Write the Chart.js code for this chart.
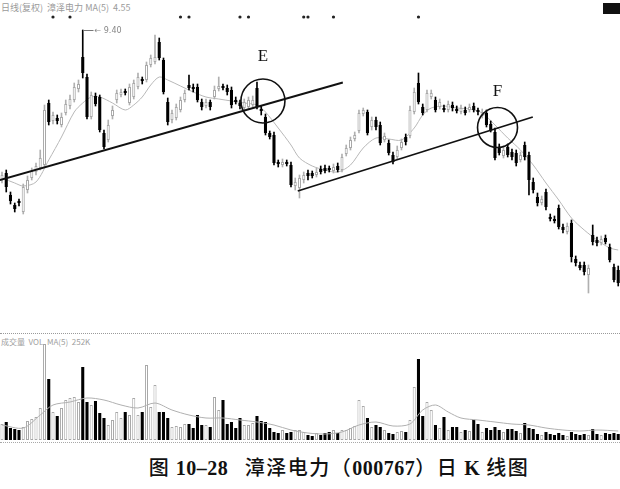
<!DOCTYPE html>
<html>
<head>
<meta charset="utf-8">
<script src="https://cdn.jsdelivr.net/npm/chart.js@4/dist/chart.umd.min.js"></script>
<style>
    body { margin: 0; background: #fff; }
    #wrap { position: relative; width: 620px; height: 489px; overflow: hidden; background: #fff; }
    canvas { position: absolute; left: 0; }
    #priceChart { top: 0; }
    #volChart { top: 330px; }
    #hdr { position: absolute; left: 1px; top: 1px; font: 9px "Noto Sans CJK SC", sans-serif; color: #9a9a9a; white-space: pre; }
    #box { position: absolute; left: 603px; top: 3px; width: 17px; height: 11px; background: #111; }
    #sep { position: absolute; left: 0; top: 333px; width: 620px; border-top: 1px dotted #9a9a9a; }
    #volHdr { position: absolute; left: 1px; top: 336px; font: 8px "Noto Sans CJK SC", sans-serif; color: #a0a0a0; white-space: pre; }
    #base { position: absolute; left: 0; top: 442px; width: 620px; border-top: 1px dotted #a8a8a8; }
    #caption { position: absolute; left: 0; top: 452px; width: 678px; text-align: center; font: bold 20px "Liberation Serif", "Noto Sans CJK SC", serif; color: #111; white-space: pre; letter-spacing: 0.5px; }
    #caption .cn { font-family: "Noto Sans CJK SC", sans-serif; font-weight: 500; letter-spacing: 1.5px; }
</style>
</head>
<body>
<div id="wrap">
    <div id="hdr">日线(复权)  漳泽电力 MA(5)  4.55</div>
    <div id="box"></div>
    <canvas id="priceChart" width="620" height="310"></canvas>
    <div id="sep"></div>
    <div id="volHdr">成交量  VOL  MA(5)  252K</div>
    <canvas id="volChart" width="620" height="110"></canvas>
    <div id="base"></div>
    <div id="caption"><span class="cn">图</span> 10–28   <span class="cn">漳泽电力（</span>000767<span class="cn">）日 </span>K<span class="cn"> 线图</span></div>
</div>

<script>
// ===========================
// DATA (daily K line, index = trading day)
// ===========================

const openP = [
    6.40, 6.54, 6.10, 5.90, 5.98, 5.76, 6.20, 6.44, 6.56, 6.64,
    6.70, 7.94, 7.58, 7.64, 7.50, 7.74, 7.88, 8.00, 8.22, 8.86,
    8.46, 7.66, 8.08, 8.06, 7.34, 7.20, 7.68, 8.00, 8.10, 8.18,
    7.94, 8.06, 8.26, 8.42, 8.40, 8.70, 8.76, 9.16, 8.80, 7.96,
    7.60, 7.64, 7.80, 8.00, 8.30, 8.26, 8.26, 7.96, 7.88, 7.96,
    8.06, 8.22, 8.28, 8.24, 8.20, 8.00, 7.94, 7.84, 7.86, 7.90,
    8.24, 7.82, 7.66, 7.34, 7.30, 6.76, 6.70, 6.76, 6.70, 6.28,
    6.24, 6.40, 6.54, 6.54, 6.50, 6.62, 6.64, 6.64, 6.58, 6.68,
    6.60, 6.92, 7.04, 7.22, 7.38, 7.72, 7.76, 7.46, 7.60, 7.50,
    7.20, 7.14, 6.90, 6.86, 7.04, 7.26, 7.28, 7.76, 8.34, 7.86,
    7.80, 8.06, 8.00, 7.86, 7.84, 7.80, 7.90, 7.82, 7.76, 7.80,
    7.80, 7.88, 7.80, 7.68, 7.74, 7.52, 7.36, 7.06, 6.88, 7.06,
    6.96, 6.94, 6.80, 7.10, 6.90, 6.36, 6.06, 5.94, 6.16, 5.66,
    5.62, 5.84, 5.46, 5.36, 5.54, 4.82, 4.70, 4.70, 4.50, 5.30,
    5.20, 5.14, 5.24, 5.06, 4.66, 4.60
];
const highP = [
    6.56, 6.60, 6.16, 5.94, 6.02, 6.32, 6.48, 6.64, 6.74, 7.00,
    7.90, 8.00, 7.76, 7.70, 7.74, 8.00, 8.10, 8.34, 8.40, 9.40,
    8.52, 8.16, 8.14, 8.10, 7.40, 7.60, 7.88, 8.20, 8.22, 8.22,
    8.32, 8.40, 8.54, 8.46, 8.76, 8.90, 9.30, 9.24, 8.84, 8.04,
    7.80, 7.92, 8.06, 8.20, 8.50, 8.32, 8.32, 8.02, 8.02, 8.00,
    8.28, 8.46, 8.32, 8.30, 8.26, 8.06, 8.00, 8.02, 8.06, 8.08,
    8.36, 7.88, 7.72, 7.38, 7.36, 6.80, 6.82, 6.80, 6.76, 6.44,
    6.50, 6.56, 6.60, 6.58, 6.64, 6.68, 6.70, 6.68, 6.72, 6.74,
    6.92, 7.10, 7.26, 7.36, 7.80, 7.84, 7.80, 7.66, 7.66, 7.56,
    7.34, 7.20, 6.96, 7.08, 7.22, 7.32, 7.88, 8.24, 8.54, 7.92,
    8.20, 8.20, 8.06, 8.02, 7.90, 7.98, 7.96, 7.88, 7.90, 7.86,
    7.92, 7.94, 7.84, 7.82, 7.80, 7.58, 7.44, 7.12, 7.08, 7.12,
    7.02, 7.00, 6.96, 7.16, 6.96, 6.44, 6.14, 6.08, 6.22, 5.72,
    5.68, 5.90, 5.52, 5.54, 5.60, 4.88, 4.76, 4.76, 4.70, 5.50,
    5.26, 5.28, 5.30, 5.12, 4.72, 4.68
];
const lowP = [
    6.34, 6.16, 5.92, 5.76, 5.88, 5.72, 6.14, 6.40, 6.50, 6.60,
    6.66, 7.50, 7.52, 7.52, 7.46, 7.70, 7.82, 7.96, 8.16, 8.44,
    7.62, 7.62, 7.88, 7.36, 7.02, 7.16, 7.62, 7.94, 8.06, 8.10,
    7.90, 8.02, 8.22, 8.32, 8.36, 8.66, 8.72, 8.80, 8.12, 7.50,
    7.54, 7.60, 7.76, 7.96, 8.20, 8.16, 7.96, 7.80, 7.84, 7.80,
    8.02, 8.18, 8.20, 8.10, 7.84, 7.92, 7.82, 7.80, 7.82, 7.86,
    7.82, 7.70, 7.30, 7.22, 6.70, 6.66, 6.66, 6.68, 6.26, 6.20,
    6.04, 6.34, 6.40, 6.44, 6.46, 6.52, 6.54, 6.56, 6.54, 6.56,
    6.56, 6.88, 7.00, 7.18, 7.34, 7.68, 7.30, 7.40, 7.40, 7.10,
    7.16, 6.90, 6.72, 6.82, 7.00, 7.10, 7.24, 7.72, 7.92, 7.70,
    7.76, 8.02, 7.76, 7.82, 7.76, 7.76, 7.78, 7.74, 7.72, 7.70,
    7.76, 7.76, 7.70, 7.64, 7.46, 7.36, 6.80, 6.90, 6.84, 6.86,
    6.80, 6.68, 6.76, 6.80, 6.10, 6.14, 5.88, 5.90, 5.80, 5.58,
    5.54, 5.42, 5.34, 5.32, 4.76, 4.68, 4.60, 4.50, 4.14, 5.10,
    5.08, 5.10, 5.12, 4.76, 4.36, 4.28
];
const closeP = [
    6.50, 6.26, 5.98, 5.82, 5.94, 6.26, 6.40, 6.58, 6.68, 6.84,
    7.80, 7.56, 7.70, 7.58, 7.66, 7.92, 8.02, 8.26, 8.32, 8.54,
    7.66, 8.10, 7.92, 7.40, 7.06, 7.50, 7.80, 8.14, 8.16, 8.14,
    8.26, 8.34, 8.46, 8.38, 8.70, 8.84, 8.86, 8.84, 8.16, 7.56,
    7.74, 7.86, 8.00, 8.14, 8.24, 8.22, 8.00, 7.86, 7.96, 7.86,
    8.20, 8.28, 8.24, 8.16, 7.90, 7.96, 7.88, 7.96, 8.00, 8.00,
    7.86, 7.78, 7.34, 7.26, 6.74, 6.72, 6.76, 6.72, 6.30, 6.36,
    6.44, 6.50, 6.48, 6.48, 6.56, 6.56, 6.58, 6.60, 6.66, 6.60,
    6.86, 7.04, 7.20, 7.30, 7.74, 7.80, 7.34, 7.60, 7.46, 7.14,
    7.28, 6.94, 6.76, 7.00, 7.16, 7.16, 7.80, 8.16, 7.96, 7.74,
    8.14, 8.14, 7.80, 7.96, 7.80, 7.92, 7.84, 7.78, 7.84, 7.74,
    7.86, 7.80, 7.76, 7.76, 7.50, 7.40, 6.84, 6.94, 7.00, 6.90,
    6.86, 6.74, 6.90, 6.86, 6.40, 6.20, 5.94, 6.02, 5.86, 5.62,
    5.58, 5.46, 5.40, 5.48, 4.86, 4.74, 4.64, 4.56, 4.64, 5.16,
    5.14, 5.22, 5.16, 4.80, 4.40, 4.34
];
const volume = [
    16, 18, 12, 11, 10, 13, 19, 21, 23, 32,
    96, 61, 28, 24, 32, 40, 42, 43, 38, 73,
    38, 35, 39, 27, 22, 15, 20, 28, 22, 28,
    25, 42, 25, 28, 75, 33, 55, 28, 28, 22,
    13, 14, 13, 16, 16, 12, 25, 15, 15, 13,
    43, 30, 40, 16, 18, 12, 22, 15, 15, 17,
    24, 19, 18, 12, 8, 7, 10, 7, 8, 10,
    10, 8, 5, 4, 7, 5, 7, 8, 10, 7,
    10, 10, 12, 14, 40, 34, 22, 13, 15, 13,
    10, 7, 6, 8, 9, 8, 20, 53, 81, 24,
    38, 30, 15, 12, 23, 10, 13, 13, 8, 10,
    9, 20, 16, 8, 12, 10, 13, 10, 8, 11,
    11, 9, 7, 17, 12, 11, 6, 5, 8, 6,
    5, 7, 5, 4, 8, 6, 5, 6, 5, 11,
    6, 5, 7, 6, 7, 6
];

// moving average of price
const maDays  = [0, 3, 5, 8, 11, 14, 17, 19, 21, 23, 26, 29, 31, 33, 35, 37, 39, 42, 45, 48, 51, 54, 57, 60, 62, 65, 68, 70, 73, 76, 79, 82, 85, 88, 91, 94, 97, 99, 101, 104, 107, 110, 113, 116, 119, 122, 125, 128, 131, 134, 137, 140, 143, 145];
const maPrice = [6.44, 6.34, 6.28, 6.36, 6.80, 7.26, 7.76, 7.94, 8.06, 8.06, 7.94, 7.80, 7.90, 8.06, 8.30, 8.46, 8.40, 8.28, 8.16, 8.06, 8.02, 7.98, 7.94, 7.90, 7.76, 7.44, 7.10, 6.84, 6.68, 6.60, 6.56, 6.70, 7.04, 7.24, 7.22, 7.20, 7.44, 7.70, 7.84, 7.88, 7.84, 7.82, 7.74, 7.50, 7.24, 7.00, 6.70, 6.34, 6.00, 5.64, 5.40, 5.20, 5.04, 5.00];

// moving average of volume
const volMaDays = [0, 5, 9, 12, 16, 20, 24, 28, 32, 36, 40, 44, 48, 52, 56, 60, 64, 68, 72, 76, 80, 84, 88, 92, 96, 99, 102, 105, 108, 112, 116, 120, 124, 128, 132, 136, 140, 145];
const volMa     = [15, 12, 25, 35, 38, 42, 40, 35, 32, 37, 30, 25, 22, 22, 20, 18, 15, 10, 7, 6, 8, 15, 18, 14, 16, 30, 35, 28, 22, 20, 18, 16, 15, 12, 10, 9, 10, 9];

// marker dots on the top row
const signalDays = [12, 16, 42, 44, 56, 58, 71, 72, 78, 98];
const signalPrice = 9.66;

// trend lines
const trendEDays  = [-0.5, 80.2];
const trendEPrice = [6.40, 8.35];
const trendFDays  = [69.6, 124.9];
const trendFPrice = [6.18, 7.66];

// break-down circles and their letters
const circleDays   = [61.4, 116.6];
const circlePrice  = [7.98, 7.45];
const circleLabels = ["E", "F"];
const labelPrice   = [8.86, 8.16];

// ===========================
// HELPER
// ===========================

const days = openP.map((_, i) => i);
const isUp = i => closeP[i] >= openP[i];
const X_MIN = -0.47;
const X_MAX = 145.42;

function xScale() {
    return { type: "linear", min: X_MIN, max: X_MAX, offset: false, display: false };
}

const annotate = {
    id: "annotate",
    afterDatasetsDraw(chart) {
        const { ctx, scales: { x, y } } = chart;
        ctx.save();

        // letters E and F
        ctx.fillStyle = "#111";
        ctx.font = '17px "Liberation Serif", serif';
        ctx.textAlign = "center";
        ctx.textBaseline = "middle";
        circleLabels.forEach((t, k) => {
            ctx.fillText(t, x.getPixelForValue(circleDays[k]), y.getPixelForValue(labelPrice[k]));
        });

        // highest price marker
        const top = Math.max(...highP);
        const hi = highP.indexOf(top);
        const px = Math.round(x.getPixelForValue(hi)) + 0.5;
        const py = Math.round(y.getPixelForValue(top)) + 0.5;
        ctx.strokeStyle = "#777";
        ctx.lineWidth = 1;
        ctx.beginPath();
        ctx.moveTo(px, py + 3);
        ctx.lineTo(px, py);
        ctx.lineTo(px + 10, py);
        ctx.stroke();
        ctx.fillStyle = "#888";
        ctx.font = '8px "DejaVu Sans", sans-serif';
        ctx.textAlign = "left";
        ctx.fillText("← " + top.toFixed(2), px + 11, py);

        ctx.restore();
    }
};

const baseOptions = (yMin, yMax) => ({
    responsive: false,
    animation: false,
    events: [],
    layout: { padding: 0, autoPadding: false },
    plugins: { legend: { display: false }, tooltip: { enabled: false } },
    scales: {
        x: xScale(),
        y: { min: yMin, max: yMax, display: false }
    }
});

// ===========================
// PRICE CHART
// ===========================

new Chart(document.getElementById("priceChart"), {
    type: "bar",
    data: {
        datasets: [
            {
                type: "line",
                data: trendEDays.map((d, k) => ({ x: d, y: trendEPrice[k] })),
                borderColor: "#111",
                borderWidth: 2,
                pointRadius: 0,
                order: 1
            },
            {
                type: "line",
                data: trendFDays.map((d, k) => ({ x: d, y: trendFPrice[k] })),
                borderColor: "#111",
                borderWidth: 1.8,
                pointRadius: 0,
                order: 1
            },
            {
                type: "line",
                data: circleDays.map((d, k) => ({ x: d, y: circlePrice[k] })),
                showLine: false,
                pointRadius: [22, 20],
                pointBorderWidth: 1.6,
                pointBorderColor: "#111",
                pointBackgroundColor: "rgba(0,0,0,0)",
                order: 0
            },
            {
                type: "line",
                data: signalDays.map(d => ({ x: d, y: signalPrice })),
                showLine: false,
                pointRadius: 1.6,
                pointBorderWidth: 0,
                pointBackgroundColor: "#222",
                order: 1
            },
            {
                type: "line",
                data: maDays.map((d, k) => ({ x: d, y: maPrice[k] })),
                borderColor: "#b8b8b8",
                borderWidth: 1,
                pointRadius: 0,
                tension: 0.3,
                order: 4
            },
            {
                // candle bodies
                data: days.map(i => ({ x: i, y: [openP[i], closeP[i]] })),
                grouped: false,
                barPercentage: 0.72,
                categoryPercentage: 1,
                backgroundColor: c => isUp(c.dataIndex) ? "#fff" : "#000",
                borderColor: c => isUp(c.dataIndex) ? "#a8a8a8" : "#000",
                borderWidth: c => isUp(c.dataIndex) ? 1 : 0,
                borderSkipped: false,
                order: 2
            },
            {
                // candle wicks
                data: days.map(i => ({ x: i, y: [lowP[i], highP[i]] })),
                grouped: false,
                barThickness: 1,
                backgroundColor: c => isUp(c.dataIndex) ? "#b0b0b0" : "#000",
                order: 3
            }
        ]
    },
    options: baseOptions(3.8, 10.0),
    plugins: [annotate]
});

// ===========================
// VOLUME CHART
// ===========================

new Chart(document.getElementById("volChart"), {
    type: "bar",
    data: {
        datasets: [
            {
                type: "line",
                data: volMaDays.map((d, k) => ({ x: d, y: volMa[k] })),
                borderColor: "#b0b0b0",
                borderWidth: 1,
                pointRadius: 0,
                tension: 0.3,
                order: 0
            },
            {
                data: days.map(i => ({ x: i, y: volume[i] })),
                barPercentage: 0.72,
                categoryPercentage: 1,
                backgroundColor: c => isUp(c.dataIndex) ? "#fff" : "#000",
                borderColor: c => isUp(c.dataIndex) ? "#a8a8a8" : "#000",
                borderWidth: c => isUp(c.dataIndex) ? 1 : 0,
                borderSkipped: false,
                order: 1
            }
        ]
    },
    options: baseOptions(0, 110)
});
</script>
</body>
</html>
